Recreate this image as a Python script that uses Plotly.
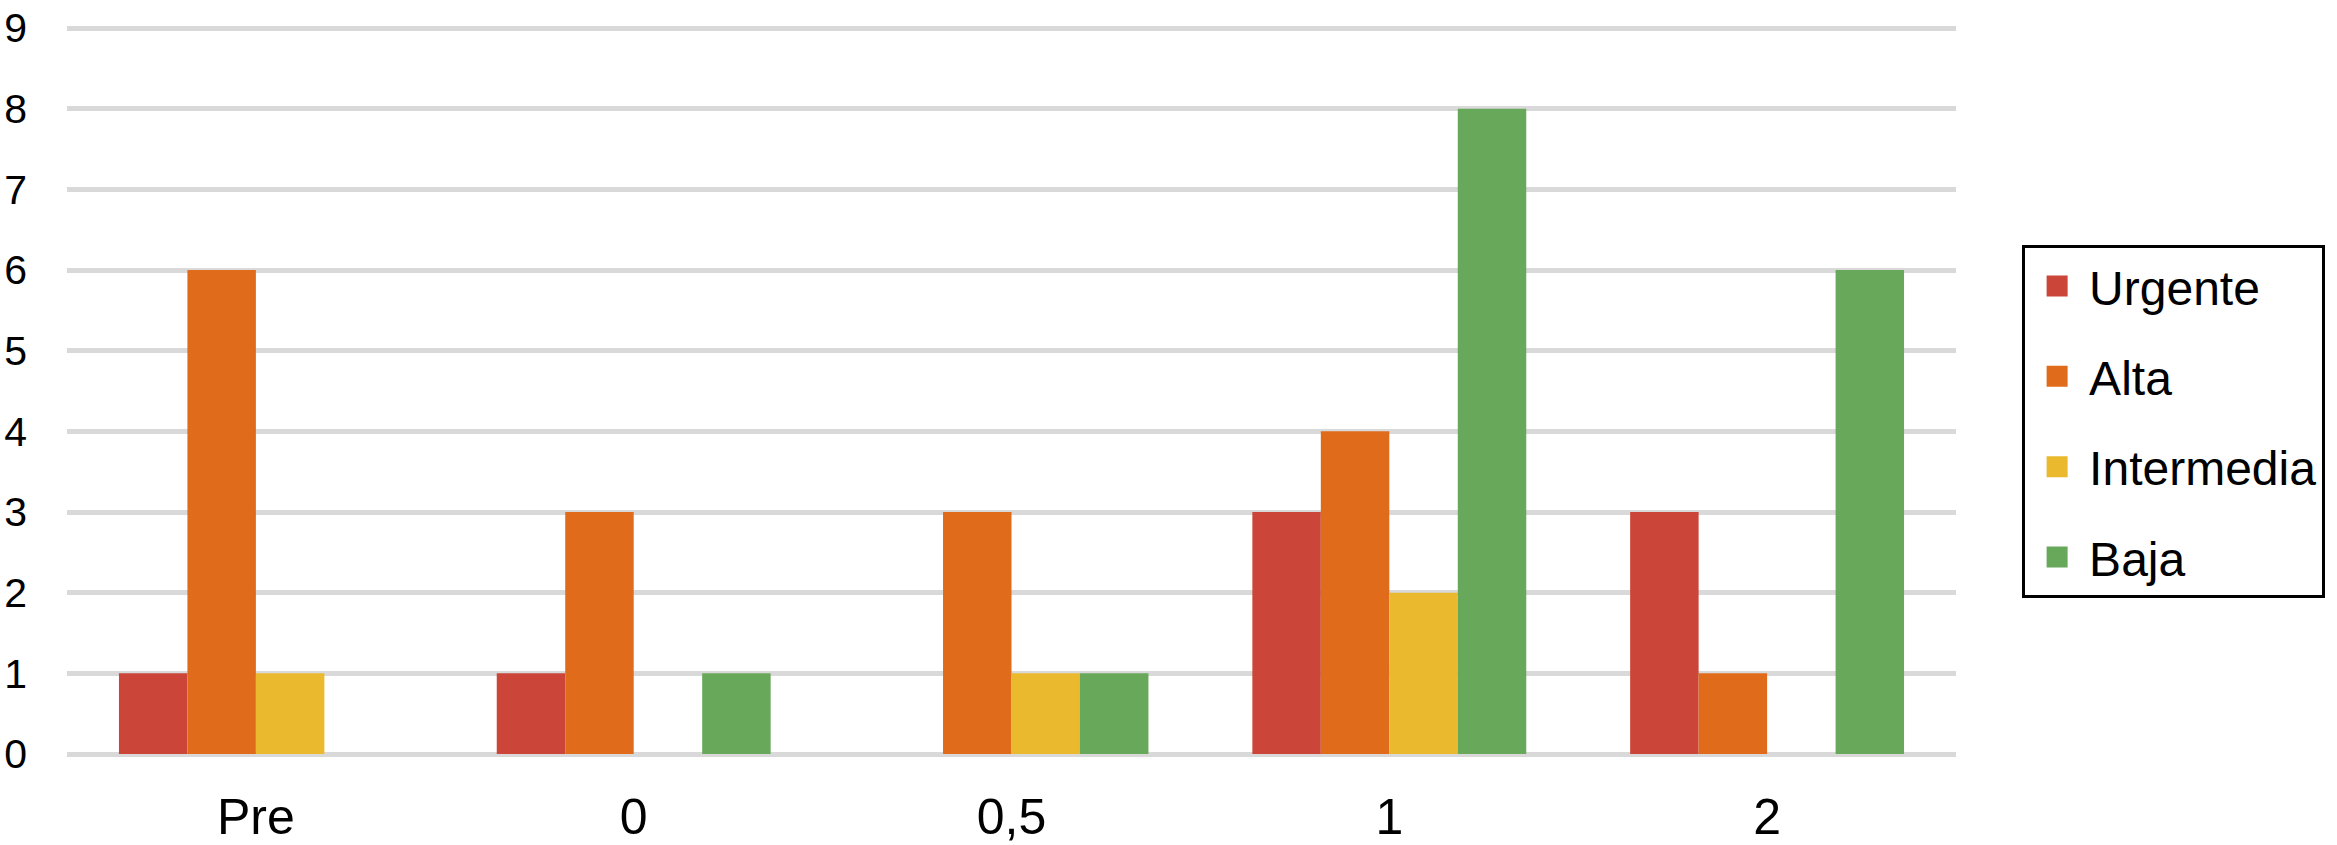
import plotly.graph_objects as go

categories = ["Pre", "0", "0,5", "1", "2"]
series_names = ["Urgente", "Alta", "Intermedia", "Baja"]
urgente = [1, 1, 0, 3, 3]
alta = [6, 3, 3, 4, 1]
intermedia = [1, 0, 1, 2, 0]
baja = [0, 1, 1, 8, 6]
colors = ["#CB4538", "#E06C1B", "#EAB92E", "#67A85A"]
y_ticks = list(range(0, 10))

values = [urgente, alta, intermedia, baja]
FONT = "Liberation Sans, Arial, Helvetica, sans-serif"

fig = go.Figure()
for name, vals, col in zip(series_names, values, colors):
    fig.add_trace(go.Bar(x=categories, y=vals, name=name, marker=dict(color=col, line=dict(width=0)),
                         showlegend=False))
for i, (name, col) in enumerate(zip(series_names, colors)):
    fig.add_trace(go.Scatter(x=[None], y=[None], mode="markers", name=name, legendgroup=name,
                             marker=dict(symbol="square", size=16, color=col, line=dict(color=col, width=5))))

fig.update_layout(
    width=2337, height=845,
    margin=dict(l=67, r=379, t=24, b=91),
    paper_bgcolor="white", plot_bgcolor="white",
    barmode="group", bargap=0.275, bargroupgap=0,
    font=dict(family=FONT, color="black"),
    xaxis=dict(type="category", showgrid=False, showline=False, ticks="", automargin=False,
               tickfont=dict(size=50), ticklabelstandoff=29),
    yaxis=dict(range=[0, 9.05], tickvals=y_ticks, showgrid=True, gridcolor="#d9d9d9", gridwidth=5,
               zeroline=True, zerolinecolor="#d9d9d9", zerolinewidth=5, showline=False, ticks="",
               automargin=False, tickfont=dict(size=41), ticklabelstandoff=39),
    legend=dict(x=1.035, xanchor="left", y=0.697, yanchor="top",
                bordercolor="black", borderwidth=3, bgcolor="white",
                font=dict(size=48), tracegroupgap=25, itemsizing="trace", itemwidth=54),
)

# remove the browser's default 8px body margin so the figure sits at the page origin
fig.write_html("out.html", config={"displayModeBar": False},
               post_script="document.body.style.margin='0';")
